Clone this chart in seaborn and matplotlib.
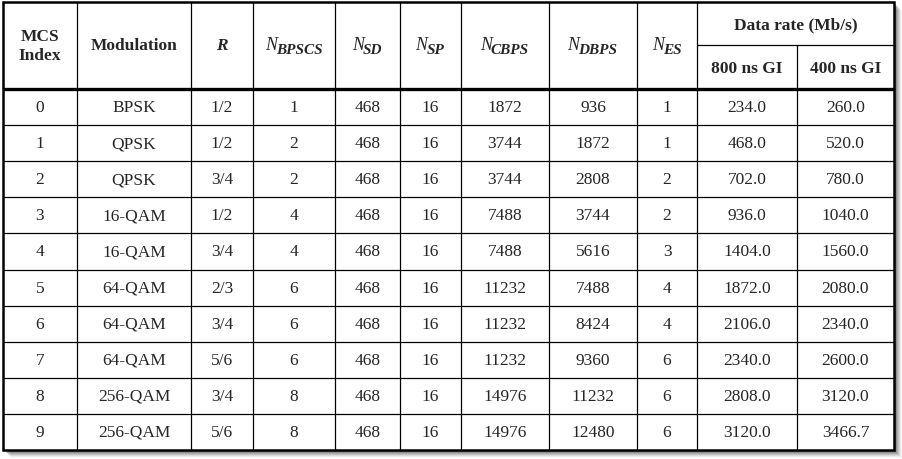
import matplotlib
matplotlib.use("Agg")
import matplotlib.pyplot as plt
import pandas as pd
import seaborn as sns

# table contents
mcs = [0, 1, 2, 3, 4, 5, 6, 7, 8, 9]
modulation = ["BPSK", "QPSK", "QPSK", "16-QAM", "16-QAM", "64-QAM", "64-QAM",
              "64-QAM", "256-QAM", "256-QAM"]
rate = ["1/2", "1/2", "3/4", "1/2", "3/4", "2/3", "3/4", "5/6", "3/4", "5/6"]
n_bpscs = [1, 2, 2, 4, 4, 6, 6, 6, 8, 8]
n_sd = [468] * 10
n_sp = [16] * 10
n_cbps = [1872, 3744, 3744, 7488, 7488, 11232, 11232, 11232, 14976, 14976]
n_dbps = [936, 1872, 2808, 3744, 5616, 7488, 8424, 9360, 11232, 12480]
n_es = [1, 1, 2, 2, 3, 4, 4, 6, 6, 6]
rate_800 = [234.0, 468.0, 702.0, 936.0, 1404.0, 1872.0, 2106.0, 2340.0, 2808.0, 3120.0]
rate_400 = [260.0, 520.0, 780.0, 1040.0, 1560.0, 2080.0, 2340.0, 2600.0, 3120.0, 3466.7]
n_subs = ["BPSCS", "SD", "SP", "CBPS", "DBPS", "ES"]

df = pd.DataFrame({
    "mcs": mcs, "mod": modulation, "R": rate, "bpscs": n_bpscs, "sd": n_sd,
    "sp": n_sp, "cbps": n_cbps, "dbps": n_dbps, "es": n_es,
    "gi800": [f"{v:.1f}" for v in rate_800], "gi400": [f"{v:.1f}" for v in rate_400],
})

sns.set_theme(style="white")
plt.rcParams["font.family"] = ["Liberation Serif", "DejaVu Serif"]

fig = plt.figure(figsize=(9.02, 4.6), dpi=100)
ax = fig.add_axes([0, 0, 1, 1])
ax.set_xlim(0, 902)
ax.set_ylim(460, 0)
ax.axis("off")

# layout in pixels
edges = [3, 77, 191, 253, 335, 400, 461, 549, 637, 697, 797, 894]
top, head_bot, sub_y, bottom = 3, 90, 46, 451
row_h = (bottom - head_bot) / len(df)

# drop shadow
for i, a in enumerate([0.16, 0.14, 0.12, 0.10, 0.07, 0.05, 0.03]):
    off = i + 1
    ax.add_patch(plt.Rectangle((edges[0] + off + 1, top + off + 1),
                               edges[-1] - edges[0], bottom - top,
                               color="black", alpha=a, lw=0, zorder=0))
ax.add_patch(plt.Rectangle((edges[0], top), edges[-1] - edges[0], bottom - top,
                           facecolor="white", edgecolor="none", zorder=1))

lw = 0.9
for x in edges[1:-1]:
    y0 = sub_y if x == 797 else top
    ax.vlines(x, y0, bottom, color="black", lw=lw, zorder=2)
for i in range(1, len(df)):
    ax.hlines(head_bot + i * row_h, edges[0], edges[-1], color="black", lw=lw, zorder=2)
ax.hlines(sub_y, 697, edges[-1], color="black", lw=lw, zorder=2)
ax.hlines(head_bot, edges[0], edges[-1], color="black", lw=2.4, zorder=2)
ax.add_patch(plt.Rectangle((edges[0], top), edges[-1] - edges[0], bottom - top,
                           facecolor="none", edgecolor="black", lw=1.8, zorder=3))

centers = [(edges[k] + edges[k + 1]) / 2 for k in range(len(edges) - 1)]
fs = 12.5
hy = (top + head_bot) / 2

# header
ax.text(centers[0], hy, "MCS\nIndex", ha="center", va="center", fontsize=fs,
        fontweight="bold", linespacing=1.25, zorder=4)
ax.text(centers[1], hy, "Modulation", ha="center", va="center", fontsize=fs,
        fontweight="bold", zorder=4)
ax.text(centers[2], hy, "R", ha="center", va="center", fontsize=fs,
        fontweight="bold", style="italic", zorder=4)

# N with subscript, built from two texts and centred by measured width
pairs = []
for k, sub in enumerate(n_subs, start=3):
    t1 = ax.text(0, hy + 4, "N", ha="left", va="baseline", fontsize=fs + 0.5,
                 style="italic", zorder=4)
    t2 = ax.text(0, hy + 8, sub, ha="left", va="baseline", fontsize=fs - 1.5,
                 style="italic", fontweight="bold", zorder=4)
    pairs.append((centers[k], t1, t2))
fig.canvas.draw()
r = fig.canvas.get_renderer()
for c, t1, t2 in pairs:
    w1 = t1.get_window_extent(r).width
    w2 = t2.get_window_extent(r).width
    x0 = c - (w1 + w2) / 2
    t1.set_x(x0)
    t2.set_x(x0 + w1 - 1)

ax.text((697 + edges[-1]) / 2, (top + sub_y) / 2 + 1, "Data rate (Mb/s)", ha="center",
        va="center", fontsize=fs, fontweight="bold", zorder=4)
ax.text(centers[9], (sub_y + head_bot) / 2 + 1, "800 ns GI", ha="center", va="center",
        fontsize=fs, fontweight="bold", zorder=4)
ax.text(centers[10], (sub_y + head_bot) / 2 + 1, "400 ns GI", ha="center", va="center",
        fontsize=fs, fontweight="bold", zorder=4)

# body
for i, row in enumerate(df.itertuples(index=False)):
    yc = head_bot + (i + 0.5) * row_h
    for k, val in enumerate(row):
        ax.text(centers[k], yc, str(val), ha="center", va="center",
                fontsize=fs, zorder=4)

fig.savefig("out.png", dpi=100, facecolor="white")
